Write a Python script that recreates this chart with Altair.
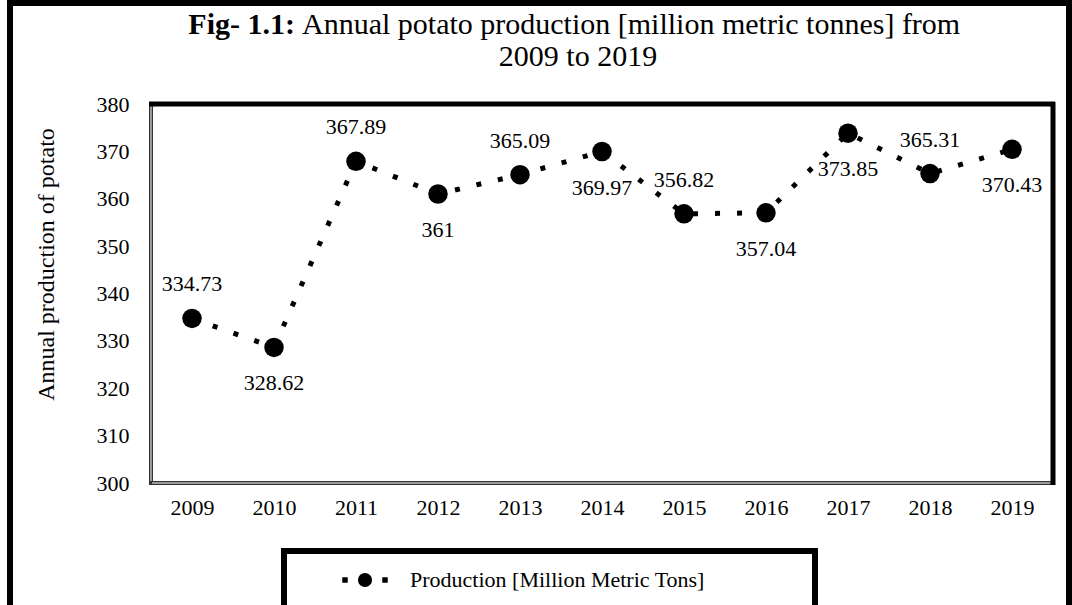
import altair as alt
import pandas as pd

# Annual potato production, million metric tonnes
years = ["2009", "2010", "2011", "2012", "2013", "2014",
         "2015", "2016", "2017", "2018", "2019"]
production = [334.73, 328.62, 367.89, 361, 365.09, 369.97,
              356.82, 357.04, 373.85, 365.31, 370.43]
label_side = ["above", "below", "above", "below", "above", "below",
              "above", "below", "below", "above", "below"]
y_ticks = [300, 310, 320, 330, 340, 350, 360, 370, 380]

title_bold = "Fig- 1.1:"
title_rest = "Annual  potato production [million metric tonnes] from"
title_line2 = "2009 to 2019"
legend_text = "Production [Million Metric Tons]"

SERIF = "Times New Roman, Liberation Serif, serif"
W, H = 902, 379           # plot area
PAD_L, PAD_T = 151, 104

df = pd.DataFrame({"year": years, "production": production, "side": label_side})

x_enc = alt.X(
    "year:N",
    sort=years,
    scale=alt.Scale(padding=0.5),
    axis=alt.Axis(title=None, labelAngle=0, labelFont=SERIF, labelFontSize=22,
                  labelColor="black", ticks=False, domain=False, grid=False,
                  labelPadding=14),
)
y_enc = alt.Y(
    "production:Q",
    scale=alt.Scale(domain=[300, 380], nice=False, zero=False),
    axis=alt.Axis(values=y_ticks, title="Annual production of potato",
                  titleFont=SERIF, titleFontSize=24, titleFontWeight="normal",
                  titleColor="black", titleX=46 - PAD_L, titleY=264 - PAD_T,
                  titleAlign="center", titleBaseline="middle", titleAngle=270,
                  labelFont=SERIF, labelFontSize=22, labelColor="black",
                  ticks=False, domain=False, grid=False, labelPadding=22),
)

base = alt.Chart(df)

line = base.mark_line(color="black", strokeWidth=5, strokeDash=[5, 17],
                      strokeCap="butt").encode(x=x_enc, y=y_enc)
points = base.mark_circle(size=380, color="black", opacity=1).encode(x=x_enc, y=y_enc)

labels_above = base.transform_filter(alt.datum.side == "above").mark_text(
    font=SERIF, fontSize=22, color="black", dy=-34
).encode(x=x_enc, y=y_enc, text=alt.Text("production:Q"))
labels_below = base.transform_filter(alt.datum.side == "below").mark_text(
    font=SERIF, fontSize=22, color="black", dy=36
).encode(x=x_enc, y=y_enc, text=alt.Text("production:Q"))

# plot frame: black top/right, grey double line on left/bottom
frame_top = alt.Chart().mark_rule(color="black", strokeWidth=5).encode(
    x=alt.value(-2), x2=alt.value(W + 2), y=alt.value(0))
frame_right = alt.Chart().mark_rule(color="black", strokeWidth=5).encode(
    x=alt.value(W), y=alt.value(-2), y2=alt.value(H + 2))
frame_left_o = alt.Chart().mark_rule(color="#333333", strokeWidth=4).encode(
    x=alt.value(0), y=alt.value(0), y2=alt.value(H))
frame_left_i = alt.Chart().mark_rule(color="#9a9a9a", strokeWidth=2).encode(
    x=alt.value(0), y=alt.value(2), y2=alt.value(H - 1))
frame_bot_o = alt.Chart().mark_rule(color="#333333", strokeWidth=4).encode(
    x=alt.value(-2), x2=alt.value(W), y=alt.value(H))
frame_bot_i = alt.Chart().mark_rule(color="#9a9a9a", strokeWidth=2).encode(
    x=alt.value(1), x2=alt.value(W - 2), y=alt.value(H))

# outer chart border
outer = alt.Chart().mark_rect(fill=None, stroke="black", strokeWidth=6).encode(
    x=alt.value(-PAD_L + 10), x2=alt.value(1069 - PAD_L),
    y=alt.value(-PAD_T + 3), y2=alt.value(640 - PAD_T))

# title
t1a = alt.Chart().mark_text(font=SERIF, fontSize=30, fontWeight="bold",
                            align="right", baseline="middle", color="black").encode(
    x=alt.value(295 - PAD_L), y=alt.value(25 - PAD_T), text=alt.value(title_bold))
t1b = alt.Chart().mark_text(font=SERIF, fontSize=30, align="left",
                            baseline="middle", color="black").encode(
    x=alt.value(302 - PAD_L), y=alt.value(25 - PAD_T), text=alt.value(title_rest))
t2 = alt.Chart().mark_text(font=SERIF, fontSize=30, align="center",
                           baseline="middle", color="black").encode(
    x=alt.value(578 - PAD_L), y=alt.value(57 - PAD_T), text=alt.value(title_line2))

# legend box and entry
leg_box = alt.Chart().mark_rect(fill=None, stroke="black", strokeWidth=6).encode(
    x=alt.value(284 - PAD_L), x2=alt.value(815 - PAD_L),
    y=alt.value(551 - PAD_T), y2=alt.value(640 - PAD_T))
leg_sq = alt.Chart(pd.DataFrame({"px": [345 - PAD_L, 385 - PAD_L]})).mark_square(
    size=30, color="black", opacity=1).encode(x=alt.X("px:Q", scale=None), y=alt.value(580 - PAD_T))
leg_dot = alt.Chart().mark_circle(size=200, color="black", opacity=1).encode(
    x=alt.value(365 - PAD_L), y=alt.value(580 - PAD_T))
leg_txt = alt.Chart().mark_text(font=SERIF, fontSize=22, align="left",
                                baseline="middle", color="black").encode(
    x=alt.value(410 - PAD_L), y=alt.value(580 - PAD_T), text=alt.value(legend_text))

chart = alt.layer(
    outer, frame_left_o, frame_left_i, frame_bot_o, frame_bot_i, frame_top, frame_right,
    line, points, labels_above, labels_below,
    t1a, t1b, t2, leg_box, leg_sq, leg_dot, leg_txt,
).properties(
    width=W, height=H,
    padding={"left": PAD_L, "top": PAD_T, "right": 1072 - PAD_L - W, "bottom": 605 - PAD_T - H},
    autosize=alt.AutoSizeParams(type="none"),
    background="white",
).configure_view(stroke=None)

chart.save("out.html", embed_options={"renderer": "svg", "actions": False})
